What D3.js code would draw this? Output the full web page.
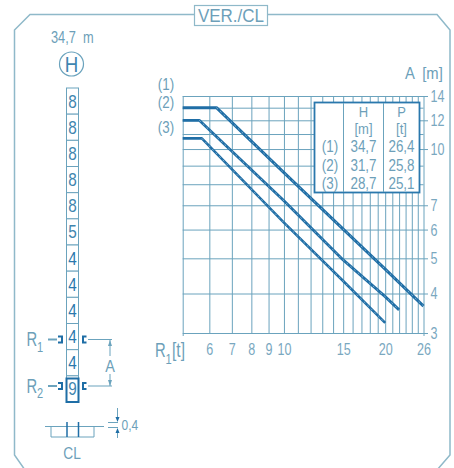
<!DOCTYPE html>
<html>
<head>
<meta charset="utf-8">
<script src="https://d3js.org/d3.v7.min.js"></script>
<style>
  html, body { margin: 0; padding: 0; background: #fff; }
  text { font-family: "Liberation Sans", sans-serif; fill: #6d9fb9; }
  .axis path { display: none; }
  .axis line { stroke: #6ba3bd; stroke-width: 1; }
  .axis text { font-size: 17px; fill: #7aa8bf; }
</style>
</head>
<body>
<svg id="chart" width="454" height="468"></svg>
<script>
// values
const xGrid = [5, 6, 7, 8, 9, 10, 11, 12, 13, 14, 15, 16, 17, 18, 19, 20, 21, 22, 23, 24, 25, 26];
const xLabels = [6, 7, 8, 9, 10, 15, 20, 26];
const yGrid = [14, 13, 12, 11, 10, 9, 8, 7, 6, 5, 4, 3];
const yLabels = [14, 12, 10, 7, 6, 5, 4, 3];

const curve1 = [[5, 13], [6.3, 13], [10, 8.61], [15, 6.02], [20, 4.67], [26, 3.65]];
const curve2 = [[5, 12], [5.6, 12], [10, 7.2], [15, 4.95], [20, 3.91], [22, 3.55]];
const curve3 = [[5, 10.7], [5.7, 10.7], [10, 6.27], [15, 4.33], [20, 3.23]];

const rowNames = ["(1)", "(2)", "(3)"];
const heights = ["34,7", "31,7", "28,7"];
const weights = ["26,4", "25,8", "25,1"];

const mastLabels = [8, 8, 8, 8, 8, 5, 4, 4, 4, 4, 4, 9];

const svg = d3.select("#chart");
const frameColor = "#8fb9c9";
const gridColor = "#6ba3bd";
const lineColor = "#1f6ea6";
const darkColor = "#2a78ad";

// outer frame with cut corners
svg.append("path")
  .attr("d", "M25,470 L14.5,455 L14.5,30 L30,14.5 L437,14.5 L450,30 L450,455 L437,470")
  .attr("fill", "none")
  .attr("stroke", frameColor)
  .attr("stroke-width", 1.5);

// title box
svg.append("rect")
  .attr("x", 194.5).attr("y", 5.5).attr("width", 73).attr("height", 20)
  .attr("fill", "#fff").attr("stroke", frameColor).attr("stroke-width", 1.2);
svg.append("text")
  .attr("x", 231).attr("y", 22).attr("text-anchor", "middle").attr("data-k", 0.92)
  .style("font-size", "18.5px").text("VER./CL");

// chart scales, y axis is not quite log in the lower part of the drawing
const x = d3.scaleLog().domain([5, 26]).range([182.7, 423.5]);
const y = d3.scaleLog().domain([14, 4, 3]).range([96, 293.5, 333]);

const gridX = svg.append("g")
  .attr("class", "axis")
  .attr("transform", "translate(0,333)")
  .call(d3.axisBottom(x)
    .tickValues(xGrid)
    .tickSize(-237)
    .tickPadding(8)
    .tickFormat((d) => (xLabels.includes(d) ? d : "")));
gridX.selectAll("text").attr("dy", "0.85em");
gridX.selectAll("line").attr("y1", (d) => (d === 5 || d === 26 ? 3 : 0));

const gridY = svg.append("g")
  .attr("class", "axis")
  .attr("transform", "translate(423.5,0)")
  .call(d3.axisRight(y)
    .tickValues(yGrid)
    .tickSize(0)
    .tickPadding(7)
    .tickFormat((d) => (yLabels.includes(d) ? d : "")));
gridY.selectAll("line")
  .attr("x1", (d) => (yLabels.includes(d) ? 4.5 : 0))
  .attr("x2", -240.8);

// curves, the white dashes on top give the rough look of the scan
const line = d3.line().x((d) => x(d[0])).y((d) => y(d[1]));
svg.selectAll(".curve")
  .data([curve1, curve2, curve3])
  .enter()
  .append("path")
  .attr("class", "curve")
  .attr("d", line)
  .attr("fill", "none")
  .attr("stroke", lineColor)
  .attr("stroke-width", (d, i) => [3, 2.8, 2.6][i])
  .attr("stroke-linejoin", "round");
svg.selectAll(".curve-rough")
  .data([curve1.slice(1), curve2.slice(1), curve3.slice(1)])
  .enter()
  .append("path")
  .attr("class", "curve-rough")
  .attr("d", line)
  .attr("fill", "none")
  .attr("stroke", "#fff")
  .attr("stroke-opacity", 0.45)
  .attr("stroke-width", 1)
  .attr("stroke-dasharray", "2 3");

// axis names and curve tags
svg.append("text").attr("x", 405).attr("y", 79).attr("data-k", 0.87)
  .style("font-size", "17px").attr("xml:space", "preserve").text("A  [m]");
const tags = svg.append("g").style("font-size", "15.9px").attr("text-anchor", "middle");
tags.selectAll("text")
  .data(rowNames)
  .enter()
  .append("text")
  .attr("x", 166)
  .attr("y", (d, i) => [90, 108.5, 133.5][i])
  .attr("data-k", 0.84)
  .text((d) => d);

svg.append("text").attr("x", 155).attr("y", 357).style("font-size", "20px").text("R");
svg.append("text").attr("x", 165.5).attr("y", 364).style("font-size", "15px").text("1");
svg.append("text").attr("x", 172).attr("y", 357).style("font-size", "21px").text("[t]");

// table over the grid
const table = svg.append("g");
table.append("rect")
  .attr("x", 314.5).attr("y", 102.5).attr("width", 105).attr("height", 90)
  .attr("fill", "#fff").attr("stroke", darkColor).attr("stroke-width", 1.8);
table.selectAll("line")
  .data([343.5, 383.5])
  .enter()
  .append("line")
  .attr("x1", (d) => d).attr("x2", (d) => d)
  .attr("y1", 103).attr("y2", 192)
  .attr("stroke", gridColor);

const tableText = table.append("g").style("font-size", "16px").attr("text-anchor", "middle");
const colX = [330, 363.5, 401.5];
const rowY = [152.5, 171, 189.5];
const headCell = (cx, cy, label) =>
  tableText.append("text").attr("x", cx).attr("y", cy).attr("data-k", 0.84)
    .style("font-size", "15.5px").text(label);
headCell(colX[1], 117, "H");
headCell(colX[2], 117, "P");
headCell(colX[1], 134.5, "[m]");
headCell(colX[2], 134.5, "[t]");
[rowNames, heights, weights].forEach((col, c) => {
  tableText.selectAll(".col" + c)
    .data(col)
    .enter()
    .append("text")
    .attr("class", "col" + c)
    .attr("x", colX[c])
    .attr("y", (d, i) => rowY[i])
    .attr("data-k", 0.84)
    .text((d) => d);
});

// mast on the left
const mastY = d3.scaleBand().domain(d3.range(mastLabels.length)).range([88, 402]);
const mast = svg.append("g");
mast.selectAll("rect")
  .data(mastLabels)
  .enter()
  .append("rect")
  .attr("x", 66.5)
  .attr("y", (d, i) => mastY(i))
  .attr("width", 12)
  .attr("height", mastY.bandwidth())
  .attr("fill", "#fff")
  .attr("stroke", gridColor);
mast.selectAll("text")
  .data(mastLabels)
  .enter()
  .append("text")
  .attr("x", 72.5)
  .attr("y", (d, i) => mastY(i) + mastY.bandwidth() / 2 + 6.5)
  .attr("text-anchor", "middle")
  .attr("data-k", 0.85)
  .style("font-size", "18px")
  .style("fill", (d) => (d === 4 ? "#2a78ad" : "#3f86b0"))
  .text((d) => d);
mast.append("rect")
  .attr("x", 66.5).attr("y", 378.5).attr("width", 12).attr("height", 23.5)
  .attr("fill", "none").attr("stroke", lineColor).attr("stroke-width", 2);

svg.append("text").attr("x", 51).attr("y", 43).attr("data-k", 0.8)
  .style("font-size", "16px").attr("xml:space", "preserve").text("34,7  m");
svg.append("circle").attr("cx", 71.5).attr("cy", 64).attr("r", 12)
  .attr("fill", "#fff").attr("stroke", gridColor).attr("stroke-width", 1.2);
svg.append("text").attr("x", 71.5).attr("y", 72).attr("text-anchor", "middle").attr("data-k", 0.85)
  .style("font-size", "22px").style("fill", "#3f86b0").text("H");

// R1 / R2 markers and the A dimension
[[339.5, "1", 346, 352], [386, "2", 393, 398]].forEach(([py, sub, base, subBase]) => {
  svg.append("text").attr("x", 26.5).attr("y", base).style("font-size", "20px").text("R");
  svg.append("text").attr("x", 37).attr("y", subBase).style("font-size", "15px").text(sub);
  svg.append("line").attr("x1", 48).attr("x2", 57).attr("y1", py).attr("y2", py)
    .attr("stroke", gridColor).attr("stroke-width", 2);
  svg.append("path").attr("d", `M58,${py - 3} H62 V${py + 3} H58`)
    .attr("fill", "none").attr("stroke", lineColor).attr("stroke-width", 2);
  svg.append("path").attr("d", `M86.5,${py - 3} H83 V${py + 3} H86.5`)
    .attr("fill", "none").attr("stroke", lineColor).attr("stroke-width", 2);
  svg.append("line").attr("x1", 88).attr("x2", 112).attr("y1", py).attr("y2", py)
    .attr("stroke", gridColor);
});
svg.append("line").attr("x1", 110).attr("x2", 110).attr("y1", 340).attr("y2", 356).attr("stroke", gridColor);
svg.append("line").attr("x1", 110).attr("x2", 110).attr("y1", 374).attr("y2", 386).attr("stroke", gridColor);
svg.append("path").attr("d", "M110,340 l-2,6 h4 Z M110,386 l-2,-6 h4 Z").attr("fill", gridColor);
svg.append("text").attr("x", 110).attr("y", 372).attr("text-anchor", "middle").attr("data-k", 0.85)
  .style("font-size", "17px").text("A");

// CL section
svg.append("path")
  .attr("d", "M45,426.5 H104 M51,426.5 V437 H94 V426.5")
  .attr("fill", "none").attr("stroke", gridColor);
svg.append("path")
  .attr("d", "M67,422 V437 M78.5,422 V437")
  .attr("fill", "none").attr("stroke", lineColor).attr("stroke-width", 1.5);
svg.append("path")
  .attr("d", "M108,422.5 H118 M108,427.5 H118 M117.5,408 V421 M117.5,429 V438")
  .attr("fill", "none").attr("stroke", gridColor);
svg.append("path").attr("d", "M117.5,422 l-2,-5 h4 Z M117.5,428 l-2,5 h4 Z").attr("fill", lineColor);
svg.append("text").attr("x", 121.5).attr("y", 430.5).attr("data-k", 0.8)
  .style("font-size", "15px").text("0,4");
svg.append("text").attr("x", 72).attr("y", 459).attr("text-anchor", "middle").attr("data-k", 0.86)
  .style("font-size", "16px").text("CL");

// the drawing uses a narrow lettering, squeeze all text around its own x
svg.selectAll("text").each(function () {
  const k = +this.getAttribute("data-k") || 0.74;
  const tx = +this.getAttribute("x") || 0;
  this.setAttribute("transform", `translate(${tx * (1 - k)},0) scale(${k},1)`);
});
</script>
</body>
</html>
